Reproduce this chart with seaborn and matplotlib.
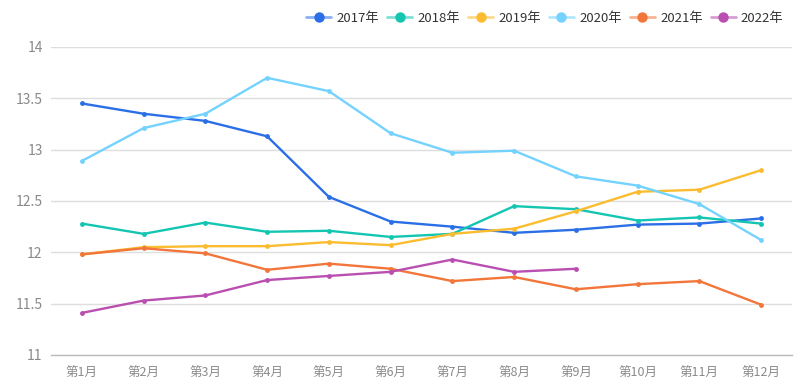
import matplotlib
matplotlib.use("Agg")
import matplotlib.pyplot as plt
from matplotlib.lines import Line2D
from matplotlib.colors import to_rgba
import seaborn as sns
import pandas as pd

months = ["第1月", "第2月", "第3月", "第4月", "第5月", "第6月",
          "第7月", "第8月", "第9月", "第10月", "第11月", "第12月"]
years = ["2017年", "2018年", "2019年", "2020年", "2021年", "2022年"]

v2017 = [13.45, 13.35, 13.28, 13.13, 12.54, 12.30, 12.25, 12.19, 12.22, 12.27, 12.28, 12.33]
v2018 = [12.28, 12.18, 12.29, 12.20, 12.21, 12.15, 12.18, 12.45, 12.42, 12.31, 12.34, 12.28]
v2019 = [11.98, 12.05, 12.06, 12.06, 12.10, 12.07, 12.18, 12.23, 12.40, 12.59, 12.61, 12.80]
v2020 = [12.89, 13.21, 13.35, 13.70, 13.57, 13.16, 12.97, 12.99, 12.74, 12.65, 12.47, 12.12]
v2021 = [11.98, 12.04, 11.99, 11.83, 11.89, 11.84, 11.72, 11.76, 11.64, 11.69, 11.72, 11.49]
v2022 = [11.41, 11.53, 11.58, 11.73, 11.77, 11.81, 11.93, 11.81, 11.84]

colors = ["#2a6fe6", "#14c6b2", "#fbbd2f", "#74d3fe", "#f2763a", "#b94fb0"]

rows = []
for yr, vals in zip(years, [v2017, v2018, v2019, v2020, v2021, v2022]):
    for i, v in enumerate(vals):
        rows.append({"year": yr, "idx": i, "value": v})
df = pd.DataFrame(rows)

sns.set_style("white")
plt.rcParams["font.family"] = ["Noto Sans CJK SC", "DejaVu Sans"]

fig = plt.figure(figsize=(8.01, 3.80), dpi=100)
ax = fig.add_axes([51 / 801, 25 / 380, 741 / 801, 308 / 380])

sns.lineplot(data=df, x="idx", y="value", hue="year", palette=colors,
             marker="o", markersize=3.5, markeredgewidth=0, linewidth=1.7,
             ax=ax, legend=False)

ax.set_xlim(-0.5, 11.5)
ax.set_ylim(11, 14)
ax.set_yticks([11, 11.5, 12, 12.5, 13, 13.5, 14])
ax.set_yticklabels(["11", "11.5", "12", "12.5", "13", "13.5", "14"])
ax.set_xticks(range(12))
ax.set_xticklabels(months)
ax.set_xticks([i - 0.5 for i in range(13)], minor=True)
ax.tick_params(axis="x", which="major", length=0, pad=8, labelsize=9, labelcolor="#8a8a8a")
ax.tick_params(axis="x", which="minor", length=5, color="#bbbbbb", width=1)
ax.tick_params(axis="y", length=0, pad=6, labelsize=10, labelcolor="#8a8a8a")
ax.set_xlabel("")
ax.set_ylabel("")

ax.grid(axis="y", color="#dedede", linewidth=1)
ax.set_axisbelow(True)
for s in ["top", "right", "left"]:
    ax.spines[s].set_visible(False)
ax.spines["bottom"].set_color("#bbbbbb")
ax.spines["bottom"].set_linewidth(1)

handles = [Line2D([0], [0], color=to_rgba(c, 0.55), linewidth=2, marker="o",
                  markersize=7.5, markerfacecolor=c, markeredgewidth=0, label=y)
           for c, y in zip(colors, years)]
leg = fig.legend(handles=handles, loc="upper right", bbox_to_anchor=(0.993, 1.0),
                 ncol=6, frameon=False, fontsize=9.5, handlelength=1.9,
                 handletextpad=0.4, columnspacing=0.6)
for t in leg.get_texts():
    t.set_color("#333333")

fig.savefig("out.png", dpi=100)
